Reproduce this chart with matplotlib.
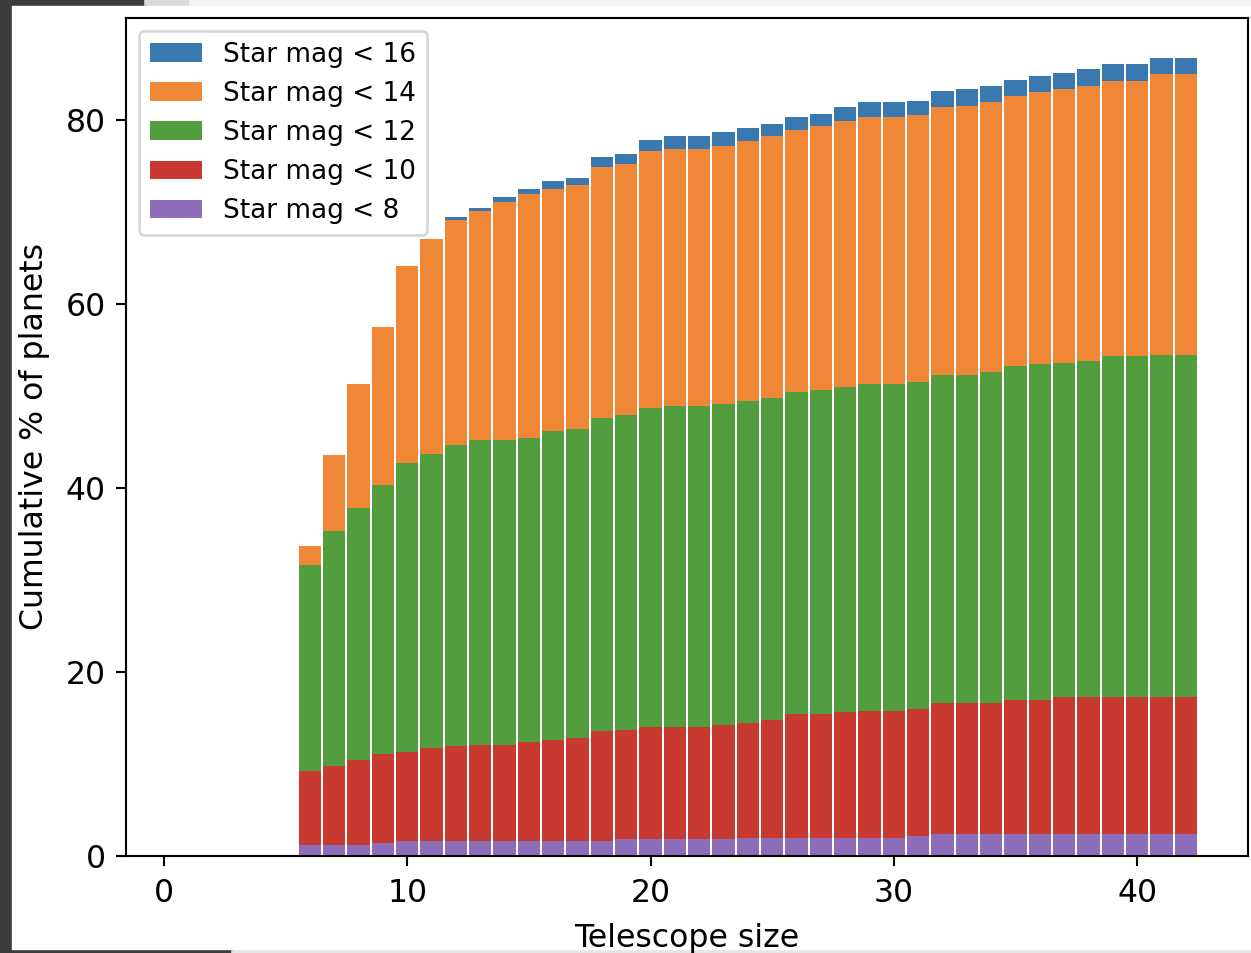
import numpy as np
import matplotlib
matplotlib.use("Agg")
import matplotlib.pyplot as plt
from matplotlib.patches import Rectangle

# telescope sizes 1..42 (nothing below 6)
sizes = np.arange(1, 43)
pad = [0.0] * 5

mag16 = pad + [33.7, 43.6, 51.3, 57.5, 64.1, 67.0, 69.4, 70.4, 71.6, 72.5,
               73.3, 73.7, 75.9, 76.3, 77.8, 78.2, 78.2, 78.6, 79.05, 79.5,
               80.3, 80.65, 81.4, 81.9, 81.9, 82.0, 83.1, 83.3, 83.6, 84.3,
               84.7, 85.1, 85.5, 86.0, 86.0, 86.7, 86.7]
mag14 = pad + [33.7, 43.6, 51.3, 57.5, 64.1, 67.0, 69.1, 70.1, 71.05, 71.9,
               72.5, 72.9, 74.9, 75.2, 76.6, 76.8, 76.8, 77.1, 77.7, 78.2,
               78.9, 79.3, 79.8, 80.3, 80.3, 80.5, 81.4, 81.5, 81.9, 82.6,
               83.0, 83.3, 83.6, 84.2, 84.2, 84.9, 84.9]
mag12 = pad + [31.6, 35.3, 37.8, 40.3, 42.7, 43.7, 44.6, 45.2, 45.2, 45.4,
               46.2, 46.4, 47.6, 47.9, 48.7, 48.9, 48.9, 49.1, 49.4, 49.75,
               50.4, 50.6, 51.0, 51.3, 51.3, 51.45, 52.2, 52.3, 52.6, 53.2,
               53.4, 53.55, 53.8, 54.35, 54.35, 54.4, 54.4]
mag10 = pad + [9.24, 9.8, 10.4, 11.1, 11.3, 11.7, 11.95, 12.07, 12.07, 12.4,
               12.6, 12.8, 13.55, 13.7, 14.0, 14.0, 14.0, 14.2, 14.4, 14.8,
               15.4, 15.4, 15.65, 15.76, 15.76, 16.0, 16.6, 16.6, 16.6, 16.9,
               17.0, 17.25, 17.25, 17.25, 17.25, 17.25, 17.25]
mag8 = pad + [1.2, 1.2, 1.2, 1.45, 1.67, 1.67, 1.67, 1.67, 1.67, 1.67,
              1.67, 1.67, 1.67, 1.8, 1.8, 1.8, 1.8, 1.8, 2.0, 2.0,
              2.0, 2.0, 2.0, 2.0, 2.0, 2.17, 2.39, 2.39, 2.39, 2.39,
              2.39, 2.39, 2.39, 2.39, 2.39, 2.39, 2.39]

series = [
    ("Star mag < 16", mag16, "#3a78b0"),
    ("Star mag < 14", mag14, "#f08736"),
    ("Star mag < 12", mag12, "#529e3e"),
    ("Star mag < 10", mag10, "#c83a31"),
    ("Star mag < 8", mag8, "#8d6dba"),
]

DPI = 189
plt.rcParams['font.size'] = 12
plt.rcParams['xtick.major.size'] = 3.8
plt.rcParams['ytick.major.size'] = 3.8
plt.rcParams['xtick.major.pad'] = 4.6
plt.rcParams['ytick.major.pad'] = 4.0

fig = plt.figure(figsize=(1251 / DPI, 953 / DPI), dpi=DPI)
ax = fig.add_axes([126 / 1251, 1 - 856 / 953, 1122 / 1251, 838 / 953])

for label, vals, color in series:
    ax.bar(sizes, vals, width=0.92, color=color, label=label)

ax.set_xlabel("Telescope size", labelpad=5.2)
ax.set_ylabel("Cumulative % of planets", labelpad=6.0)
ax.legend(loc="upper left", fontsize=10)

# screenshot frame bits
def strip(x0, y0, w, h, c):
    fig.patches.append(Rectangle((x0 / 1251, 1 - (y0 + h) / 953), w / 1251, h / 953,
                                 transform=fig.transFigure, color=c, zorder=-1))

strip(0, 0, 10, 953, "#3c3c3c")
strip(10, 0, 135, 4, "#3c3c3c")
strip(145, 0, 45, 4, "#d9d9d9")
strip(190, 0, 1061, 4, "#f3f3f3")
strip(10, 951, 222, 2, "#3c3c3c")
strip(232, 951, 1019, 2, "#e6e6e6")

fig.savefig("out.png", dpi=DPI)
